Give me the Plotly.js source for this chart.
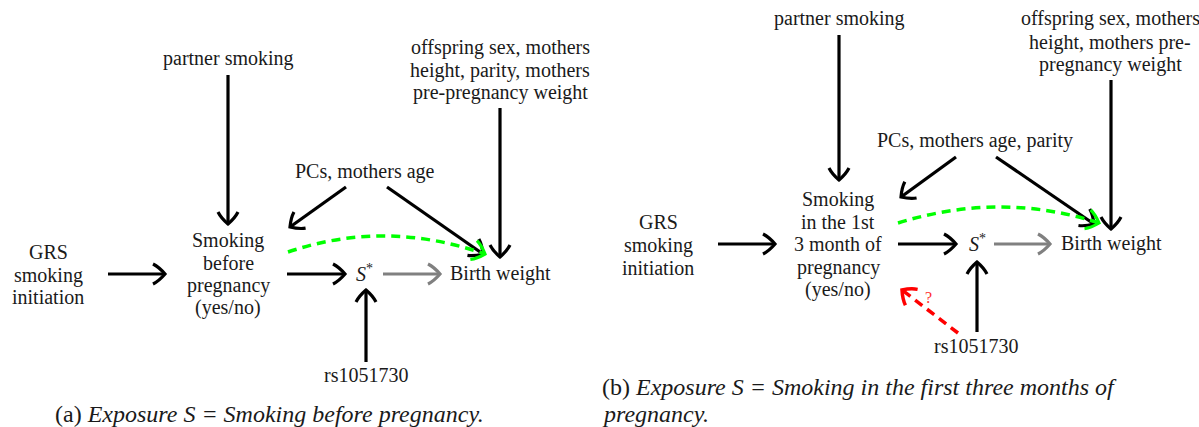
<!DOCTYPE html>
<html><head><meta charset="utf-8">
<script src="https://cdn.plot.ly/plotly-3.0.1.min.js"></script>
<style>
html,body{margin:0;padding:0;background:#fff}
#c text{font-family:"Liberation Serif","DejaVu Serif",serif !important}
</style>
</head><body><div id="c"></div>
<script>
// ---- node labels (text lines) and their positions on the canvas ----
const labelText = [
  "partner smoking","offspring sex, mothers","height, parity, mothers","pre-pregnancy weight",
  "PCs, mothers age","GRS","smoking","initiation","Smoking","before","pregnancy","(yes/no)",
  "Birth weight","rs1051730",
  "partner smoking","offspring sex, mothers","height, mothers pre-","pregnancy weight",
  "PCs, mothers age, parity","GRS","smoking","initiation","Smoking","in the 1st","3 month of",
  "pregnancy","(yes/no)","Birth weight","rs1051730"
];
const labelX = [228,500,500,500,365,48,48,48,228,228,228,228,500,366,
                839,1110,1110,1110,975,658,658,658,838,838,838,838,838,1111,976];
const labelY = [58,47,70,92,171,252,275,297,240,263,285,307,273,375,
                18,18,42,64,140,222,245,268,199,222,244,267,289,243,346];
// S* nodes
const sText = ["<i>S</i><sup>*</sup>","<i>S</i><sup>*</sup>"];
const sX = [364,977], sY = [273,243];

// ---- edges (start / end points) and their kind ----
const edgeX0 = [228,500,346,387,108,287,366,383,  839,1111,956,996,718,898,977,994];
const edgeY0 = [75,108,187,187,274,274,362,274,   35,80,157,157,244,244,332,244];
const edgeX1 = [228,500,290,483,165,345,366,440,  839,1111,901,1094,775,956,977,1050];
const edgeY1 = [224,257,227,254,274,274,290,274,  180,229,197,224,244,244,262,244];
const edgeKind = ["k","k","k","k","k","k","k","g",  "k","k","k","k","k","k","k","g"];

// curved dashed edges: start, control, end
const curveX0 = [288,898], curveY0 = [252,223];
const curveCX = [385,1001], curveCY = [219,191];
const curveX1 = [485,1099], curveY1 = [254,223];
// red dashed edge (panel b)
const redX0 = [958], redY0 = [333], redX1 = [902], redY1 = [290];
const redMark = "?", redMarkX = 928, redMarkY = 297;

// captions
const captionText = ["(a) <i>Exposure S = Smoking before pregnancy.</i>",
  "(b) <i>Exposure S = Smoking in the first three months of</i>", "<i>pregnancy.</i>"];
const captionX = [53,600,600], captionY = [414,387,414];

const FAM = "Liberation Serif";
const shapes = [];
function head(tx,ty,dx,dy,color,w){
  const L=Math.hypot(dx,dy); dx/=L; dy/=L; const nx=-dy, ny=dx;
  const b=12, s=10;
  const p1=[tx-b*dx+s*nx, ty-b*dy+s*ny], c1=[tx-6*dx+7*nx, ty-6*dy+7*ny];
  const p2=[tx-b*dx-s*nx, ty-b*dy-s*ny], c2=[tx-6*dx-7*nx, ty-6*dy-7*ny];
  shapes.push({type:"path",xref:"x",yref:"y",
    path:`M${p1[0]},${p1[1]} Q${c1[0]},${c1[1]} ${tx},${ty} Q${c2[0]},${c2[1]} ${p2[0]},${p2[1]}`,
    line:{color:color,width:w}});
}
const colors = {k:"#000000", g:"#808080"};
for(let i=0;i<edgeX0.length;i++){
  const c=colors[edgeKind[i]];
  shapes.push({type:"line",xref:"x",yref:"y",x0:edgeX0[i],y0:edgeY0[i],x1:edgeX1[i],y1:edgeY1[i],
    line:{color:c,width:3.2}});
  head(edgeX1[i],edgeY1[i],edgeX1[i]-edgeX0[i],edgeY1[i]-edgeY0[i],c,3.2);
}
for(let i=0;i<curveX0.length;i++){
  shapes.push({type:"path",xref:"x",yref:"y",
    path:`M${curveX0[i]},${curveY0[i]} Q${curveCX[i]},${curveCY[i]} ${curveX1[i]},${curveY1[i]}`,
    line:{color:"#00ff00",width:3.5,dash:"9px,6px"}});
  head(curveX1[i],curveY1[i],curveX1[i]-curveCX[i],curveY1[i]-curveCY[i],"#00ff00",3.2);
}
for(let i=0;i<redX0.length;i++){
  shapes.push({type:"line",xref:"x",yref:"y",x0:redX0[i],y0:redY0[i],x1:redX1[i],y1:redY1[i],
    line:{color:"#ff0000",width:3.5,dash:"9px,6px"}});
  head(redX1[i],redY1[i],redX1[i]-redX0[i],redY1[i]-redY0[i],"#ff0000",3.5);
}

const annotations = [];
function addText(t,x,y,size,color,anchor){
  annotations.push({x:x,y:y,xref:"x",yref:"y",text:t,showarrow:false,
    xanchor:anchor,yanchor:"middle",font:{family:FAM,size:size,color:color}});
}
labelText.forEach((t,i)=>addText(t,labelX[i],labelY[i],20,"#1a1a1a","center"));
sText.forEach((t,i)=>addText(t,sX[i],sY[i],20,"#1a1a1a","center"));
addText(redMark,redMarkX,redMarkY,16,"#ff3030","center");
captionText.forEach((t,i)=>addText(t,captionX[i],captionY[i],24,"#1a1a1a","left"));

const layout = {
  width:1199,height:427,margin:{l:0,r:0,t:0,b:0,pad:0},showlegend:false,
  font:{family:FAM},
  paper_bgcolor:"#fff",plot_bgcolor:"#fff",
  xaxis:{range:[0,1199],visible:false,fixedrange:true},
  yaxis:{range:[427,0],visible:false,fixedrange:true},
  shapes:shapes, annotations:annotations
};
Plotly.newPlot("c",[{type:"scatter",mode:"markers",x:[],y:[],hoverinfo:"skip"}],layout,{displayModeBar:false});
</script></body></html>
